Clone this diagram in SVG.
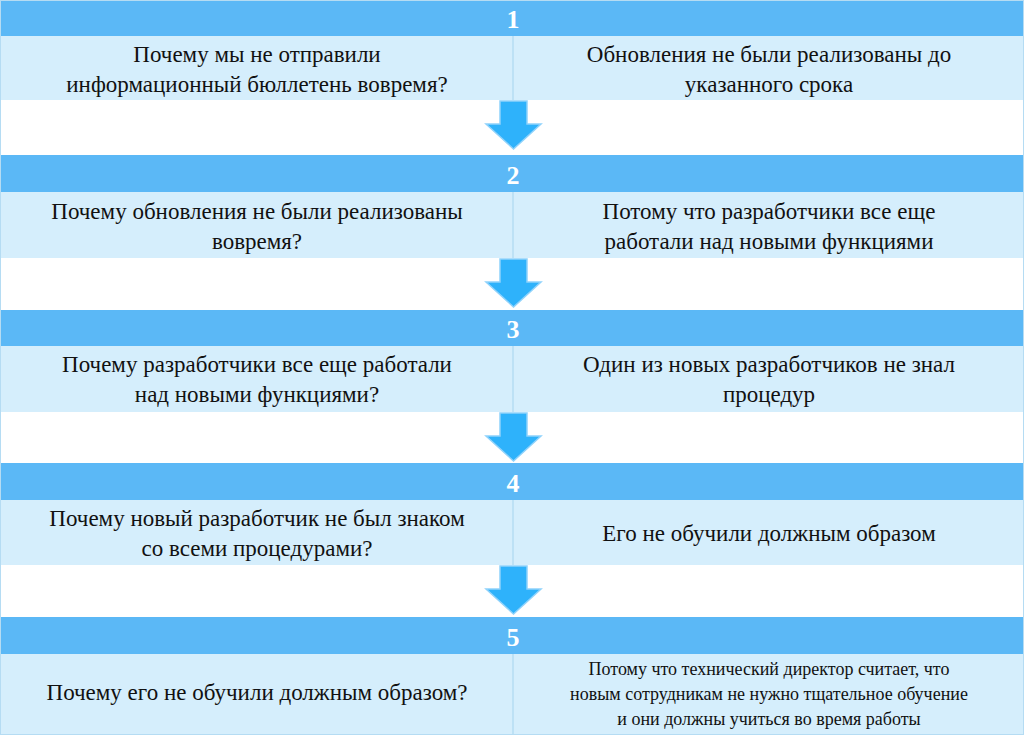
<svg xmlns="http://www.w3.org/2000/svg" width="1024" height="735" viewBox="0 0 1024 735">
<style>
.h{fill:#5bb8f6}
.r{fill:#d5eefc}
.t{font-family:"Liberation Serif",serif;font-size:23px;fill:#111;text-anchor:middle}
.s{font-family:"Liberation Serif",serif;font-size:18px;fill:#111;text-anchor:middle}
.n{font-family:"Liberation Serif",serif;font-size:26px;font-weight:bold;fill:#fff;text-anchor:middle}
.d{stroke:#b5dcf3;stroke-width:1.5}
.a{fill:#2eb2fb;stroke:#8fd2fb;stroke-width:1.5}
</style>
<defs><path id="arr" d="M500,0 H527 V23 H541 L513.5,48 L486,23 H500 Z"/></defs>
<rect width="1024" height="735" fill="#fff"/>
<g id="step1">
<rect class="h" x="0" y="0" width="1024" height="36"/><text class="n" x="513" y="28">1</text>
<rect class="r" x="0" y="36" width="1024" height="64"/><line class="d" x1="513" y1="36" x2="513" y2="100"/>
<text class="t" x="257" y="62">Почему мы не отправили</text><text class="t" x="257" y="92">информационный бюллетень вовремя?</text>
<text class="t" x="769" y="62">Обновления не были реализованы до</text><text class="t" x="769" y="92">указанного срока</text>
</g>
<g id="step2">
<rect class="h" x="0" y="155" width="1024" height="37"/><text class="n" x="513" y="184">2</text>
<rect class="r" x="0" y="192" width="1024" height="66"/><line class="d" x1="513" y1="192" x2="513" y2="258"/>
<text class="t" x="257" y="219">Почему обновления не были реализованы</text><text class="t" x="257" y="249">вовремя?</text>
<text class="t" x="769" y="219">Потому что разработчики все еще</text><text class="t" x="769" y="249">работали над новыми функциями</text>
</g>
<g id="step3">
<rect class="h" x="0" y="310" width="1024" height="36"/><text class="n" x="513" y="338">3</text>
<rect class="r" x="0" y="346" width="1024" height="66"/><line class="d" x1="513" y1="346" x2="513" y2="412"/>
<text class="t" x="257" y="372">Почему разработчики все еще работали</text><text class="t" x="257" y="402">над новыми функциями?</text>
<text class="t" x="769" y="372">Один из новых разработчиков не знал</text><text class="t" x="769" y="402">процедур</text>
</g>
<g id="step4">
<rect class="h" x="0" y="463" width="1024" height="37"/><text class="n" x="513" y="492">4</text>
<rect class="r" x="0" y="500" width="1024" height="65"/><line class="d" x1="513" y1="500" x2="513" y2="565"/>
<text class="t" x="257" y="526">Почему новый разработчик не был знаком</text><text class="t" x="257" y="556">со всеми процедурами?</text>
<text class="t" x="769" y="541">Его не обучили должным образом</text>
</g>
<g id="step5">
<rect class="h" x="0" y="617" width="1024" height="37"/><text class="n" x="513" y="646">5</text>
<rect class="r" x="0" y="654" width="1024" height="81"/><line class="d" x1="513" y1="654" x2="513" y2="735"/>
<text class="t" x="257" y="700">Почему его не обучили должным образом?</text>
<text class="s" x="769" y="675">Потому что технический директор считает, что</text>
<text class="s" x="769" y="700">новым сотрудникам не нужно тщательное обучение</text>
<text class="s" x="769" y="725">и они должны учиться во время работы</text>
</g>
<g id="connectors">
<use href="#arr" class="a" transform="translate(0,101)"/>
<use href="#arr" class="a" transform="translate(0,259)"/>
<use href="#arr" class="a" transform="translate(0,413)"/>
<use href="#arr" class="a" transform="translate(0,566)"/>
</g>
<rect x="0.5" y="0.5" width="1023" height="734" fill="none" stroke="#b5dcf3"/>
</svg>
